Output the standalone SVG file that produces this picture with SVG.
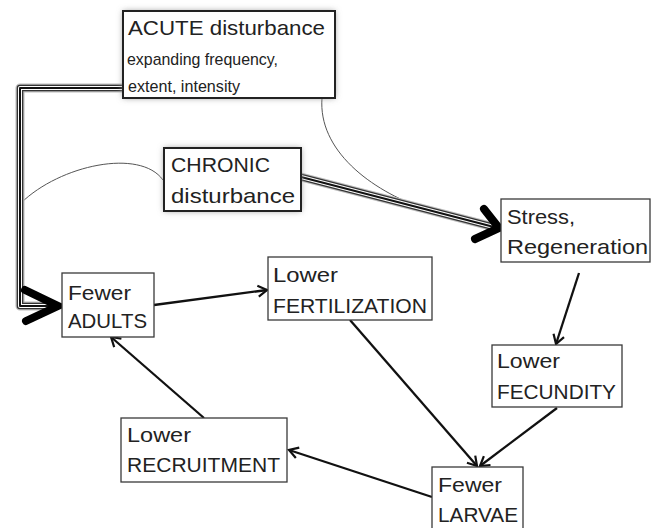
<svg xmlns="http://www.w3.org/2000/svg" width="657" height="528" viewBox="0 0 657 528">
<style>
  text { font-family: "Liberation Sans", Arial, sans-serif; fill: #222; }
  .t { font-size: 21px; }
  .sub { font-size: 17px; }
  .box { fill: #ffffff; stroke: #3a3a3a; stroke-width: 1.3; }
  .dbox { fill: #ffffff; stroke: #222; stroke-width: 2; }
  .arr { fill: none; stroke: #111; stroke-width: 2.3; marker-end: url(#vhead); }
  .thin { fill: none; stroke: #555; stroke-width: 1; }
  .tl1 { fill: none; stroke: #bbb; stroke-width: 9; stroke-linejoin: round; }
  .tl2 { fill: none; stroke: #333; stroke-width: 6.5; stroke-linejoin: round; }
  .tl3 { fill: none; stroke: #fff; stroke-width: 4; stroke-linejoin: round; }
  .tl4 { fill: none; stroke: #111; stroke-width: 2; stroke-linejoin: round; }
  .chev { fill: none; stroke: #000; stroke-width: 8; stroke-linecap: round; stroke-linejoin: miter; }
</style>
<defs>
  <marker id="vhead" markerWidth="14" markerHeight="14" refX="11" refY="7" orient="auto" markerUnits="userSpaceOnUse">
    <path d="M2,1.5 L11,7 L2,12.5" fill="none" stroke="#111" stroke-width="2.2"/>
  </marker>
  <filter id="glow" x="-20%" y="-30%" width="140%" height="160%">
    <feGaussianBlur stdDeviation="3"/>
  </filter>
</defs>
<rect width="657" height="528" fill="#ffffff"/>

<g id="connectors">
  <path class="thin" d="M322,98 C318,150 370,190 425,209"/>
  <path class="thin" d="M21,203 C60,165 140,148 163,180"/>
  <g id="acute-link">
    <path class="tl1" d="M125,88 L20,88 L20,306 L52,306"/>
    <path class="tl2" d="M125,88 L20,88 L20,306 L52,306"/>
    <path class="tl3" d="M125,88 L20,88 L20,306 L52,306"/>
    <path class="tl4" d="M125,88 L20,88 L20,306 L52,306"/>
    <path class="chev" d="M25,290 L58,306 L26,321"/>
  </g>
  <g id="chronic-link">
    <path class="tl1" d="M301,177 L494,227"/>
    <path class="tl2" d="M301,177 L494,227"/>
    <path class="tl3" d="M301,177 L494,227"/>
    <path class="tl4" d="M301,177 L494,227"/>
    <path class="chev" d="M484,209 L499,228 L475,239"/>
  </g>
  <path class="arr" d="M154,305 L267,290"/>
  <path class="arr" d="M350,320 L477,466"/>
  <path class="arr" d="M579,273 L556,344"/>
  <path class="arr" d="M557,408 L480,466"/>
  <path class="arr" d="M432,497 L289,450"/>
  <path class="arr" d="M204,418 L111,337"/>
</g>

<g id="acute">
  <rect x="123" y="11" width="212" height="87" fill="#999" filter="url(#glow)"/>
  <rect class="dbox" x="123" y="11" width="212" height="87"/>
  <text class="t" x="128" y="35" font-size="22" textLength="197" lengthAdjust="spacingAndGlyphs">ACUTE disturbance</text>
  <text class="sub" x="127" y="65" textLength="151" lengthAdjust="spacingAndGlyphs">expanding frequency,</text>
  <text class="sub" x="128" y="92" textLength="112" lengthAdjust="spacingAndGlyphs">extent, intensity</text>
</g>

<g id="chronic">
  <rect x="164" y="148" width="137" height="63" fill="#999" filter="url(#glow)"/>
  <rect class="dbox" x="164" y="148" width="137" height="63"/>
  <text class="t" x="171" y="172" textLength="99" lengthAdjust="spacingAndGlyphs">CHRONIC</text>
  <text class="t" x="171" y="203" textLength="124" lengthAdjust="spacingAndGlyphs">disturbance</text>
</g>

<g id="stress">
  <rect class="box" x="501" y="199" width="149" height="63"/>
  <text class="t" x="507" y="224" textLength="68" lengthAdjust="spacingAndGlyphs">Stress,</text>
  <text class="t" x="507" y="254" textLength="141" lengthAdjust="spacingAndGlyphs">Regeneration</text>
</g>

<g id="adults">
  <rect class="box" x="62" y="273" width="92" height="64"/>
  <text class="t" x="68" y="300" textLength="63" lengthAdjust="spacingAndGlyphs">Fewer</text>
  <text class="t" x="68" y="328" textLength="79" lengthAdjust="spacingAndGlyphs">ADULTS</text>
</g>

<g id="fertilization">
  <rect class="box" x="268" y="257" width="164" height="63"/>
  <text class="t" x="273" y="282" textLength="65" lengthAdjust="spacingAndGlyphs">Lower</text>
  <text class="t" x="273" y="313" textLength="154" lengthAdjust="spacingAndGlyphs">FERTILIZATION</text>
</g>

<g id="fecundity">
  <rect class="box" x="492" y="345" width="130" height="62"/>
  <text class="t" x="497" y="368" textLength="63" lengthAdjust="spacingAndGlyphs">Lower</text>
  <text class="t" x="497" y="399" textLength="119" lengthAdjust="spacingAndGlyphs">FECUNDITY</text>
</g>

<g id="recruitment">
  <rect class="box" x="121" y="418" width="166" height="64"/>
  <text class="t" x="127" y="442" textLength="64" lengthAdjust="spacingAndGlyphs">Lower</text>
  <text class="t" x="127" y="472" textLength="153" lengthAdjust="spacingAndGlyphs">RECRUITMENT</text>
</g>

<g id="larvae">
  <rect class="box" x="432" y="467" width="91" height="66"/>
  <text class="t" x="438" y="492" textLength="64" lengthAdjust="spacingAndGlyphs">Fewer</text>
  <text class="t" x="438" y="522" textLength="80" lengthAdjust="spacingAndGlyphs">LARVAE</text>
</g>
</svg>
